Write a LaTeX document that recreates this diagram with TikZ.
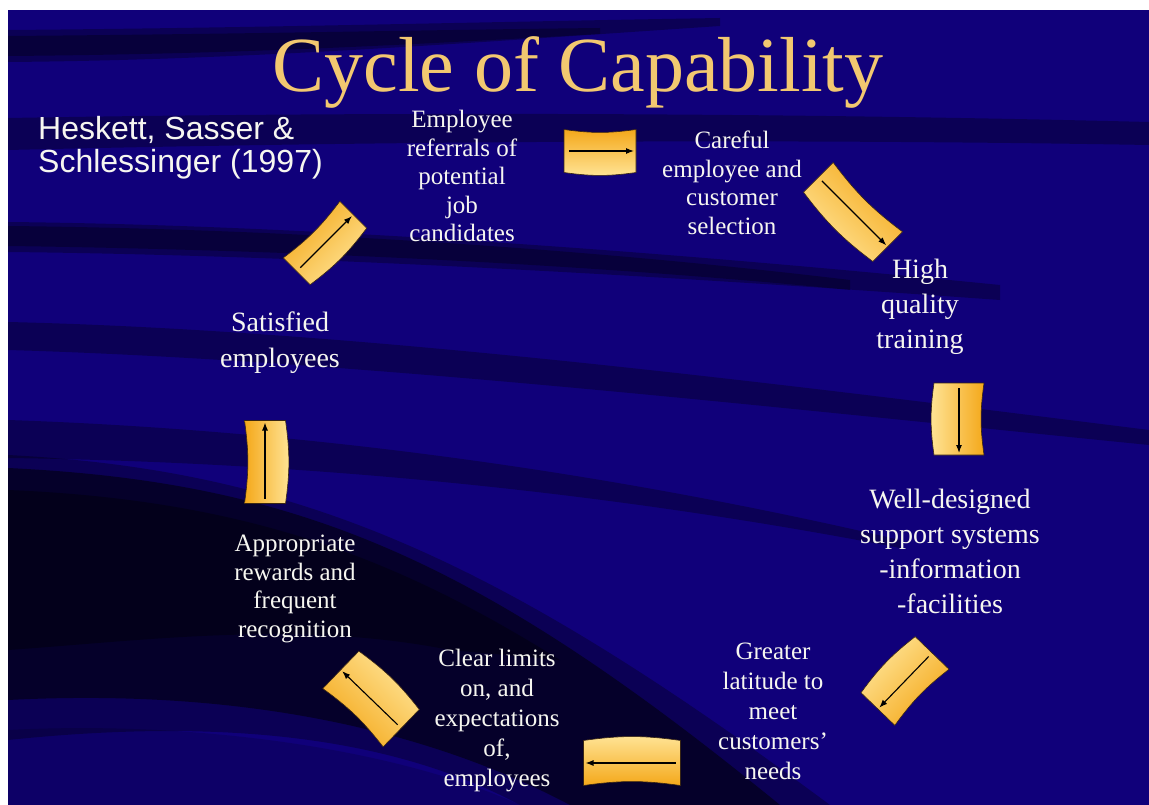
\documentclass[tikz,border=0pt]{standalone}
\usepackage{fontspec}
\setmainfont{Liberation Serif}
\newfontfamily\refsans{Liberation Sans}
\usetikzlibrary{arrows.meta}
\definecolor{slidebg}{RGB}{16,0,122}
\definecolor{titlegold}{RGB}{242,200,112}
\definecolor{boxorange}{RGB}{244,168,26}
\definecolor{boxpale}{RGB}{255,228,150}
\definecolor{textwhite}{RGB}{246,246,240}

% curved golden box with an arrow along it: name, x, y, angle, length, width
\newcommand{\capbox}[6]{%
  \begin{scope}[shift={(#2,#3)},rotate=#4]
    \shade[boxshade,shading angle=#4] (-#5/2,-#6/2) to[bend right=8] (#5/2,-#6/2)
      -- (#5/2,#6/2) to[bend left=8] (-#5/2,#6/2) -- cycle;
    \coordinate (#1tail) at (-#5/2+5,0);
    \coordinate (#1head) at (#5/2-2,0);
  \end{scope}
  \draw[flow] (#1tail) -- (#1head);}

\begin{document}
\begin{tikzpicture}[x=1pt,y=-1pt,
  boxshade/.style={top color=boxorange,bottom color=boxpale,draw=black!70!brown,line width=.6pt},
  flow/.style={-{Latex[length=8pt,width=6pt]},line width=1.1pt,black},
  streak/.style={fill=black,opacity=.3},
  cyctext/.style={text=textwhite,align=center,inner sep=0pt,font=\fontsize{25}{28.5}\selectfont},
  cycbig/.style={cyctext,font=\fontsize{28}{35}\selectfont}]
\useasboundingbox (0,0) rectangle (1149,805);
\fill[white] (0,0) rectangle (1149,805);
\fill[slidebg] (8,10) rectangle (1149,805);

% dark sweeps of the background
\begin{scope}
\clip (8,10) rectangle (1149,805);
\fill[streak] (8,30) .. controls (250,28) and (480,22) .. (720,18) -- (720,26) .. controls (480,42) and (250,60) .. (8,62) -- cycle;
\fill[streak] (8,36) .. controls (250,34) and (420,30) .. (600,28) -- (600,34) .. controls (420,44) and (250,54) .. (8,56) -- cycle;
\fill[streak] (8,118) .. controls (350,112) and (750,112) .. (1149,122) -- (1149,145) .. controls (750,138) and (350,142) .. (8,150) -- cycle;
\fill[streak] (8,222) .. controls (300,225) and (650,250) .. (1000,285) -- (1000,300) .. controls (650,275) and (300,255) .. (8,252) -- cycle;
\fill[streak] (8,226) .. controls (300,229) and (600,250) .. (850,280) -- (850,290) .. controls (600,265) and (300,250) .. (8,246) -- cycle;
\fill[streak] (8,322) .. controls (350,330) and (750,380) .. (1149,430) -- (1149,445) .. controls (750,405) and (350,360) .. (8,350) -- cycle;
\fill[streak] (8,420) .. controls (300,430) and (600,470) .. (900,540) -- (900,548) .. controls (600,490) and (300,462) .. (8,458) -- cycle;
\fill[streak] (8,455) .. controls (300,470) and (500,560) .. (830,805) -- (520,805) .. controls (380,730) and (200,720) .. (8,740) -- cycle;
\fill[streak,opacity=.5] (8,468) .. controls (300,482) and (480,560) .. (780,805) -- (570,805) .. controls (400,715) and (200,690) .. (8,700) -- cycle;
\fill[streak,opacity=.35] (8,490) .. controls (250,500) and (400,560) .. (560,660) -- (450,650) .. controls (300,620) and (150,640) .. (8,650) -- cycle;
\fill[streak,opacity=.15] (8,730) .. controls (200,720) and (400,750) .. (520,805) -- (8,805) -- cycle;
\end{scope}

\node[text=titlegold,anchor=base,inner sep=0pt,font=\fontsize{78}{78}\selectfont] (title) at (578,92) {Cycle of Capability};
\node[text=textwhite,anchor=north west,align=left,inner sep=0pt,font=\refsans\fontsize{32}{33}\selectfont] (source) at (38,116) {Heskett, Sasser \&\\Schlessinger (1997)};

\node[cyctext] (referrals) at (462,176) {Employee\\referrals of\\potential\\job\\candidates};
\node[cyctext] (selection) at (732,183) {Careful\\employee and\\customer\\selection};
\node[cycbig] (training) at (920,307) {High\\quality\\training};
\node[cycbig] (support) at (950,551) {Well-designed\\support systems\\-information\\-facilities};
\node[cyctext,font=\fontsize{25}{30}\selectfont] (latitude) at (773,711) {Greater\\latitude to\\meet\\customers’\\needs};
\node[cyctext,font=\fontsize{25}{30}\selectfont] (limits) at (497,721) {Clear limits\\on, and\\expectations\\of,\\employees};
\node[cyctext] (rewards) at (295,589) {Appropriate\\rewards and\\frequent\\recognition};
\node[cycbig,font=\fontsize{28}{36}\selectfont] (satisfied) at (280,343) {Satisfied\\employees};

\capbox{a}{600}{151}{0}{72}{43}
\capbox{b}{853}{212}{-45}{98}{42}
\capbox{c}{959}{419}{-90}{72}{50}
\capbox{d}{905}{681}{-134}{78}{47}
\capbox{e}{632}{763}{180}{97}{45}
\capbox{f}{371}{699}{136}{84}{52}
\capbox{g}{265}{462}{90}{83}{41}
\capbox{h}{325}{243}{45}{80}{38}
\end{tikzpicture}
\end{document}
